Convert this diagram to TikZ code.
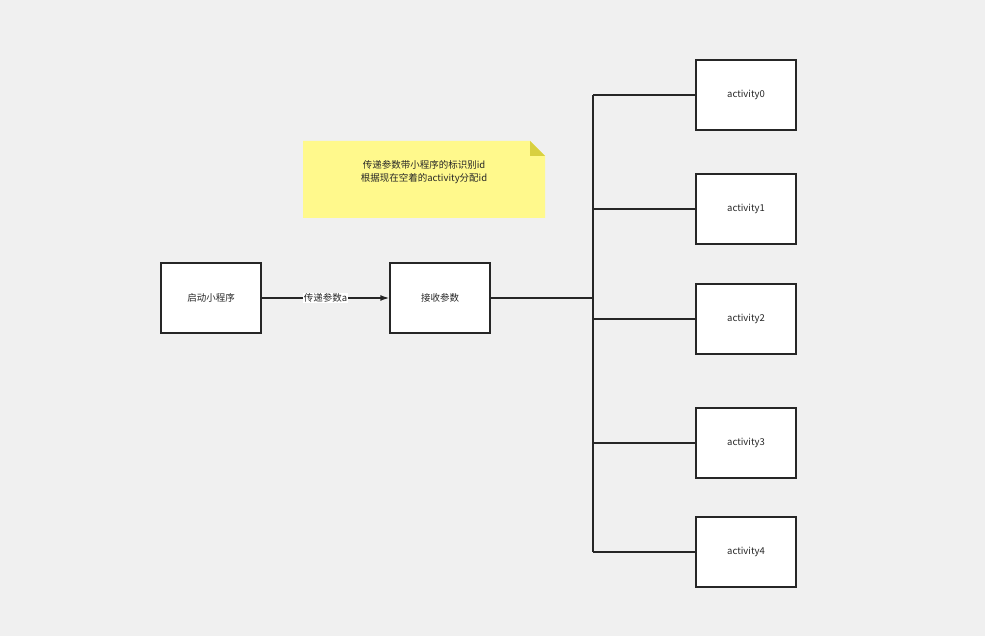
\documentclass[tikz,border=0pt]{standalone}
\usepackage{fontspec}
\setmainfont{Noto Sans CJK SC}
\usetikzlibrary{arrows.meta}
\begin{document}
\begin{tikzpicture}[x=1pt,y=-1pt,
  box/.style={draw=black!85,line width=1.4pt,fill=white,minimum width=100pt,minimum height=70pt,inner sep=0pt,font=\fontsize{9.5pt}{11pt}\selectfont,text=black!85},
  ln/.style={draw=black!85,line width=1.4pt}]
\fill[black!6] (0,0) rectangle (985,636);
\useasboundingbox (0,0) rectangle (985,636);
\node[box] (s) at (211,298) {启动小程序};
\node[box] (r) at (440,298) {接收参数};
\foreach \i/\y in {0/95,1/209,2/319,3/443,4/552}
  \node[box] (a\i) at (746,\y) {activity\i};
\fill[yellow!45!white] (303,141) -- (530,141) -- (545,156) -- (545,218) -- (303,218) -- cycle;
\fill[yellow!50!olive!70] (530,141) -- (545,156) -- (530,156) -- cycle;
\node[font=\fontsize{9.5pt}{13pt}\selectfont,align=center,text=black!85] (n) at (424,172) {传递参数带小程序的标识别id\\根据现在空着的activity分配id};
\draw[ln,-{Latex[length=9pt,width=6pt]}] (s) -- node[fill=white,inner sep=1pt,font=\fontsize{9.5pt}{11pt}\selectfont,text=black!85]{传递参数a} (r);
\coordinate (t0) at (593,95);
\coordinate (t4) at (593,552);
\draw[ln] (t0) -- (t4);
\draw[ln] (r.east) -- (593,298);
\foreach \i in {0,...,4} \draw[ln] (a\i.west) -- (593,0 |- a\i.west);
\end{tikzpicture}
\end{document}
